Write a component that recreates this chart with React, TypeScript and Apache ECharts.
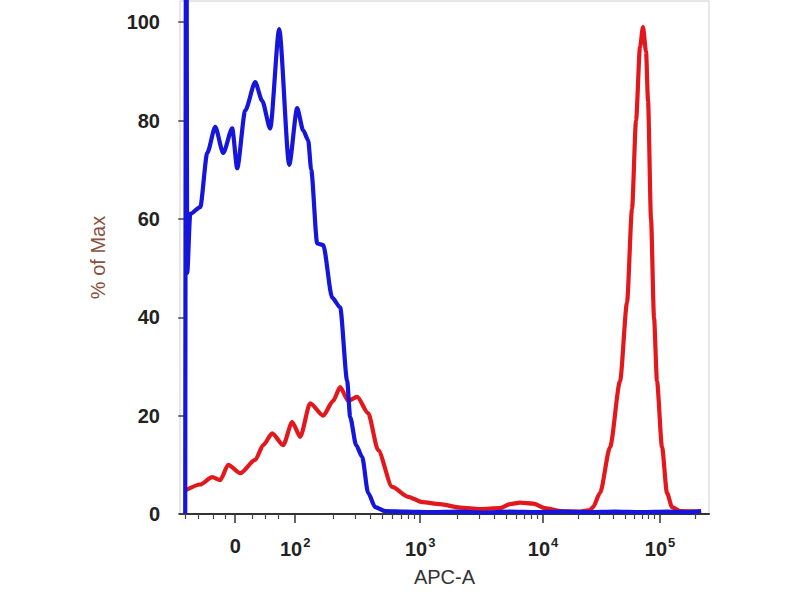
import React, { useEffect, useRef } from "react";
import * as echarts from "echarts";

// x positions are display channels (0..1000) of the biexponential APC-A scale
const BLUE_X = [0, 1.9, 3.8, 9.5, 28.6, 42.0, 57.3, 72.5, 89.7, 99.2, 114.5, 133.6, 146.9, 162.2, 179.4, 198.5, 213.7, 225.2, 234.7, 240.5, 251.9, 263.4, 280.5, 295.8, 309.2, 314.9, 326.3, 337.8, 349.2, 362.6, 381.7, 420, 470, 520, 570, 620, 670, 720, 770, 820, 870, 920, 960, 985];
const BLUE_Y = [0, 160, 49, 61, 62.4, 73.4, 78.7, 73.4, 78.4, 70.3, 82, 87.8, 84, 78.4, 98.6, 71, 82.5, 78, 76, 70, 55, 54.7, 44, 42, 27, 19.7, 14, 11.6, 4.3, 1.4, 0.6, 0.5, 0.4, 0.5, 0.3, 0.5, 0.4, 0.5, 0.4, 0.5, 0.4, 0.5, 0.4, 0.6];

const RED_X = [1.9, 28.6, 51.5, 66.8, 82.1, 105, 133.6, 148.9, 166, 187, 204.2, 219.5, 238.6, 263.4, 282.4, 295.8, 311.1, 328.2, 349.2, 368.3, 395, 425.6, 452.3, 486.6, 524.8, 563, 601.1, 620.2, 639.3, 664.1, 687, 715.7, 753.8, 772.9, 778.6, 792, 811.1, 830.2, 843.5, 853, 860.7, 868.3, 874, 879.8, 883.6, 889.3, 895, 900.7, 910.3, 919.8, 929.4, 944.7, 982.8];
const RED_Y = [4.9, 6, 7.5, 6.9, 10, 8.3, 11, 14, 16.4, 14, 18.7, 15.7, 22.5, 20, 23, 25.8, 23, 23.8, 20.5, 13, 5.5, 3.5, 2.4, 2, 1.3, 1, 1.2, 2, 2.3, 2.1, 1.2, 0.6, 0.5, 0.8, 1.4, 4.3, 13.6, 27, 43, 62, 80, 95, 99, 94, 84, 60, 40, 27, 13.6, 4.3, 1.4, 0.6, 0.5];

// major ticks of the x axis: 0, 10^2, 10^3, 10^4, 10^5
const X_MAJOR_POS = [95.4, 209.9, 448.5, 683.2, 906.5];
const X_MAJOR_LABELS = ["{b|0}", "{b|10}{s|2}", "{b|10}{s|3}", "{b|10}{s|4}", "{b|10}{s|5}"];
// minor ticks: linear region below 10^2
const X_LINEAR_MINOR = [0, 24.8, 53.4, 76.3, 127.9, 152.7, 177.5];
const Y_TICKS = [0, 20, 40, 60, 80, 100];

const X_MIN = -10;
const X_MAX = 1000;
const Y_MAX = 104.3;

function logMinorTicks(): number[] {
  const out: number[] = [...X_LINEAR_MINOR];
  // decades anchored on the major tick channels (10^2 .. 10^5)
  const anchors = X_MAJOR_POS.slice(1);
  for (let k = 0; k < anchors.length; k++) {
    const a = anchors[k];
    const w = k < anchors.length - 1 ? anchors[k + 1] - a : anchors[k] - anchors[k - 1];
    for (let m = 2; m <= 9; m++) {
      const p = a + Math.log10(m) * w;
      if (p <= X_MAX) out.push(p);
    }
  }
  return out;
}

const FONT = "'Liberation Sans', Arial, sans-serif";

export default function App() {
  const ref = useRef<HTMLDivElement>(null);
  useEffect(() => {
    if (!ref.current) return;
    const chart = echarts.init(ref.current, null, { renderer: "svg" });
    const labelFor = (v: number) => {
      let best = 0;
      for (let i = 1; i < X_MAJOR_POS.length; i++) {
        if (Math.abs(X_MAJOR_POS[i] - v) < Math.abs(X_MAJOR_POS[best] - v)) best = i;
      }
      return X_MAJOR_LABELS[best];
    };
    chart.setOption({
      animation: false,
      backgroundColor: "#ffffff",
      grid: {
        left: 180,
        right: 91,
        top: 1,
        bottom: 86,
        show: true,
        borderColor: "#cfcfcf",
        borderWidth: 1,
        backgroundColor: "transparent",
      },
      xAxis: [
        {
          type: "value",
          min: X_MIN,
          max: X_MAX,
          position: "bottom",
          splitLine: { show: false },
          axisLine: { show: true, lineStyle: { color: "#333", width: 2 } },
          axisTick: {
            show: true,
            customValues: X_MAJOR_POS,
            length: 9,
            lineStyle: { color: "#333", width: 1.5 },
          },
          axisLabel: {
            show: true,
            customValues: X_MAJOR_POS,
            margin: 22,
            formatter: (v: number) => labelFor(v),
            rich: {
              b: { fontFamily: FONT, fontSize: 20, fontWeight: "bold", color: "#222", verticalAlign: "bottom" },
              s: { fontFamily: FONT, fontSize: 13, fontWeight: "bold", color: "#222", verticalAlign: "bottom", padding: [0, 0, 10, 1] },
            },
          },
          name: "APC-A",
          nameLocation: "middle",
          nameGap: 53,
          nameTextStyle: { fontFamily: FONT, fontSize: 20, color: "#333" },
        },
        {
          type: "value",
          min: X_MIN,
          max: X_MAX,
          position: "top",
          offset: -513,
          splitLine: { show: false },
          axisLine: { show: false },
          axisTick: {
            show: true,
            inside: true,
            customValues: logMinorTicks(),
            length: 5,
            lineStyle: { color: "#444", width: 1.2 },
          },
          axisLabel: { show: false },
        },
      ],
      yAxis: [
        {
          type: "value",
          min: 0,
          max: Y_MAX,
          position: "left",
          splitLine: { show: false },
          axisLine: { show: true, lineStyle: { color: "#333", width: 1.5 } },
          axisTick: {
            show: true,
            customValues: Y_TICKS,
            length: 7,
            lineStyle: { color: "#444", width: 1.5 },
          },
          axisLabel: {
            show: true,
            customValues: Y_TICKS,
            margin: 20,
            fontFamily: FONT,
            fontSize: 20,
            fontWeight: "bold",
            color: "#222",
          },
          name: "% of Max",
          nameLocation: "middle",
          nameGap: 72,
          nameTextStyle: { fontFamily: FONT, fontSize: 20, color: "#8a5040" },
        },
        {
          type: "value",
          min: 0,
          max: Y_MAX,
          position: "right",
          splitLine: { show: false },
          axisLine: { show: true, lineStyle: { color: "#333", width: 2 } },
          axisTick: { show: false },
          axisLabel: { show: false },
        },
      ],
      series: [
        {
          type: "line",
          name: "stained",
          xAxisIndex: 0,
          yAxisIndex: 0,
          data: RED_X.map((x, i) => [x, RED_Y[i]]),
          showSymbol: false,
          smooth: 0.25,
          smoothMonotone: "x",
          clip: true,
          lineStyle: { color: "#e3181c", width: 4.2 },
          z: 2,
        },
        {
          type: "line",
          name: "control",
          xAxisIndex: 0,
          yAxisIndex: 0,
          data: BLUE_X.map((x, i) => [x, BLUE_Y[i]]),
          showSymbol: false,
          smooth: 0.25,
          smoothMonotone: "x",
          clip: true,
          lineStyle: { color: "#1515dc", width: 4.2 },
          z: 3,
        },
      ],
    });
    return () => chart.dispose();
  }, []);
  return (
    <div
      ref={ref}
      style={{ position: "fixed", left: 0, top: 0, width: 800, height: 600, background: "#fff" }}
    />
  );
}
